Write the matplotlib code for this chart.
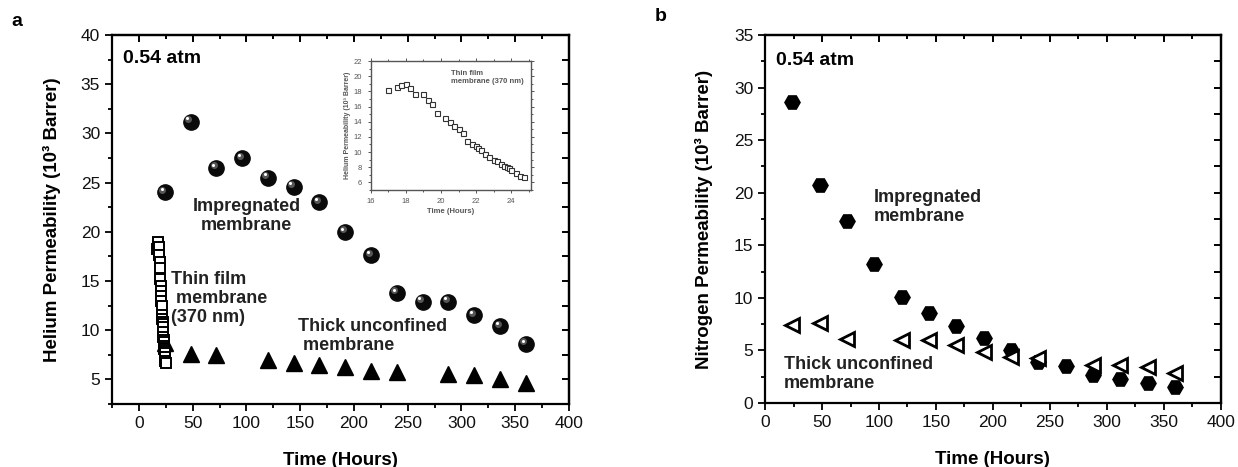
import numpy as np
import matplotlib
matplotlib.use("Agg")
import matplotlib.pyplot as plt
from matplotlib.ticker import MultipleLocator
from matplotlib.transforms import offset_copy

plt.rcParams['font.family'] = ['Liberation Sans', 'DejaVu Sans']

# ---- panel a: helium ----
he_imp_t = [24, 48, 72, 96, 120, 144, 168, 192, 216, 240, 264, 288, 312, 336, 360]
he_imp_p = [24.0, 31.2, 26.5, 27.5, 25.5, 24.6, 23.0, 20.0, 17.6, 13.8, 12.9, 12.9, 11.5, 10.4, 8.6]

he_thick_t = [24, 48, 72, 120, 144, 168, 192, 216, 240, 288, 312, 336, 360]
he_thick_p = [8.7, 7.6, 7.5, 7.0, 6.7, 6.5, 6.3, 5.9, 5.7, 5.5, 5.4, 5.0, 4.6]

# thin film (370 nm), also shown in the inset
thin_t = [17.0, 17.5, 17.75, 18.0, 18.25, 18.5, 19.0, 19.25, 19.5, 19.75, 20.25, 20.5,
          20.75, 21.0, 21.25, 21.5, 21.75, 22.0, 22.1, 22.25, 22.5, 22.75, 23.0, 23.2,
          23.4, 23.6, 23.75, 23.85, 24.0, 24.25, 24.5, 24.75]
thin_p = [18.2, 18.6, 18.9, 19.0, 18.5, 17.6, 17.6, 16.9, 16.3, 15.2, 14.5, 14.0,
          13.5, 13.0, 12.5, 11.5, 11.1, 10.8, 10.6, 10.3, 9.8, 9.3, 9.0, 8.8,
          8.4, 8.2, 8.1, 7.9, 7.7, 7.3, 6.9, 6.7]

# ---- panel b: nitrogen ----
n2_imp_t = [24, 48, 72, 96, 120, 144, 168, 192, 216, 240, 264, 288, 312, 336, 360]
n2_imp_p = [28.6, 20.7, 17.3, 13.2, 10.1, 8.6, 7.3, 6.2, 5.0, 3.9, 3.5, 2.7, 2.3, 1.9, 1.5]

n2_thick_t = [24, 48, 72, 120, 144, 168, 192, 216, 240, 288, 312, 336, 360]
n2_thick_p = [7.4, 7.6, 6.1, 6.0, 6.0, 5.5, 4.9, 4.4, 4.3, 3.6, 3.6, 3.4, 2.9]

fig = plt.figure(figsize=(12.38, 4.67), dpi=100)
ax1 = fig.add_axes([0.0905, 0.135, 0.369, 0.790])
ax2 = fig.add_axes([0.618, 0.137, 0.368, 0.788])


def style_axes(ax):
    for s in ax.spines.values():
        s.set_linewidth(1.6)
    ax.xaxis.set_major_locator(MultipleLocator(50))
    ax.xaxis.set_minor_locator(MultipleLocator(25))
    ax.yaxis.set_major_locator(MultipleLocator(5))
    ax.yaxis.set_minor_locator(MultipleLocator(2.5))
    ax.tick_params(which='both', direction='out', width=1.4, labelsize=12.5, colors='#111')
    ax.tick_params(which='major', length=5)
    ax.tick_params(which='minor', length=3)
    # mirrored ticks pointing inward on top and right
    top = ax.secondary_xaxis('top')
    top.xaxis.set_major_locator(MultipleLocator(50))
    top.xaxis.set_minor_locator(MultipleLocator(25))
    top.tick_params(which='both', direction='in', width=1.4, labeltop=False)
    top.tick_params(which='major', length=5)
    top.tick_params(which='minor', length=3)
    right = ax.secondary_yaxis('right')
    right.yaxis.set_major_locator(MultipleLocator(5))
    right.yaxis.set_minor_locator(MultipleLocator(2.5))
    right.tick_params(which='both', direction='in', width=1.4, labelright=False)
    right.tick_params(which='major', length=5)
    right.tick_params(which='minor', length=5)
    for s in list(top.spines.values()) + list(right.spines.values()):
        s.set_linewidth(1.6)
    ax.set_xlabel('Time (Hours)', fontsize=13.5, fontweight='bold', labelpad=15)


# ---------- panel a ----------
ax1.set_xlim(-25, 400)
ax1.set_ylim(2.5, 40)
style_axes(ax1)
ax1.set_ylabel('Helium Permeability (10³ Barrer)', fontsize=13.5, fontweight='bold', labelpad=14)

# shaded spheres: dark ball plus highlight
ax1.plot(he_imp_t, he_imp_p, 'o', ms=11, mfc='#0a0a0a', mec='#0a0a0a', zorder=3)
hl = offset_copy(ax1.transData, fig=fig, x=-1.8, y=1.8, units='points')
ax1.plot(he_imp_t, he_imp_p, 'o', ms=5, mfc='#6a6a6a', mec='none', alpha=0.8,
         transform=hl, zorder=4)
hl2 = offset_copy(ax1.transData, fig=fig, x=-2.3, y=2.3, units='points')
ax1.plot(he_imp_t, he_imp_p, 'o', ms=2.2, mfc='white', mec='none', transform=hl2, zorder=5)

ax1.plot(he_thick_t, he_thick_p, '^', ms=12, mfc='black', mec='black', zorder=3)
ax1.plot(thin_t, thin_p, 's', ms=7, mfc='white', mec='black', mew=1.4, zorder=6)

ax1.text(-15, 37.6, '0.54 atm', fontsize=14, fontweight='bold', va='center')
ax1.text(100, 21.6, 'Impregnated\nmembrane', fontsize=13, fontweight='bold',
         ha='center', va='center', color='#222', linespacing=1.15)
ax1.text(30, 13.2, 'Thin film\n membrane\n(370 nm)', fontsize=13, fontweight='bold',
         ha='left', va='center', color='#222', linespacing=1.15)
ax1.text(148, 9.4, 'Thick unconfined\n membrane', fontsize=13, fontweight='bold',
         ha='left', va='center', color='#222', linespacing=1.15)

# inset
axi = fig.add_axes([0.2994, 0.5931, 0.1292, 0.2762])
axi.set_xlim(16, 25.1)
axi.set_ylim(5, 22)
for s in axi.spines.values():
    s.set_linewidth(1.0)
    s.set_color('#555')
axi.xaxis.set_major_locator(MultipleLocator(2))
axi.xaxis.set_minor_locator(MultipleLocator(1))
axi.yaxis.set_major_locator(MultipleLocator(2))
axi.yaxis.set_minor_locator(MultipleLocator(1))
axi.tick_params(which='both', direction='out', labelsize=5.5, colors='#555', width=0.7,
                top=True, right=True)
axi.tick_params(which='major', length=2.5)
axi.tick_params(which='minor', length=1.5)
axi.plot(thin_t, thin_p, 's', ms=3.6, mfc='white', mec='#333', mew=0.8)
axi.set_xlabel('Time (Hours)', fontsize=5.5, fontweight='bold', color='#555', labelpad=2)
axi.set_ylabel('Helium Permeability (10³ Barrer)', fontsize=5, fontweight='bold',
               color='#555', labelpad=2)
axi.text(0.505, 0.87, 'Thin film\nmembrane (370 nm)', transform=axi.transAxes,
         fontsize=5.5, fontweight='bold', color='#555', ha='left', va='center')

# ---------- panel b ----------
ax2.set_xlim(0, 400)
ax2.set_ylim(0, 35)
style_axes(ax2)
ax2.set_ylabel('Nitrogen Permeability (10³ Barrer)', fontsize=13.5, fontweight='bold', labelpad=15)

ax2.plot(n2_imp_t, n2_imp_p, 'H', ms=11, mfc='black', mec='black', zorder=3)
ax2.plot(n2_thick_t, n2_thick_p, '<', ms=10, mfc='white', mec='black', mew=2, zorder=4)

ax2.text(10, 32.6, '0.54 atm', fontsize=14, fontweight='bold', va='center')
ax2.text(95, 18.6, 'Impregnated\nmembrane', fontsize=13, fontweight='bold',
         ha='left', va='center', color='#222', linespacing=1.15)
ax2.text(16.5, 2.75, 'Thick unconfined\nmembrane', fontsize=13, fontweight='bold',
         ha='left', va='center', color='#222', linespacing=1.15)

fig.text(0.009, 0.945, 'a', fontsize=14, fontweight='bold')
fig.text(0.529, 0.955, 'b', fontsize=14, fontweight='bold')

fig.savefig('out.png', dpi=100, facecolor='white')
